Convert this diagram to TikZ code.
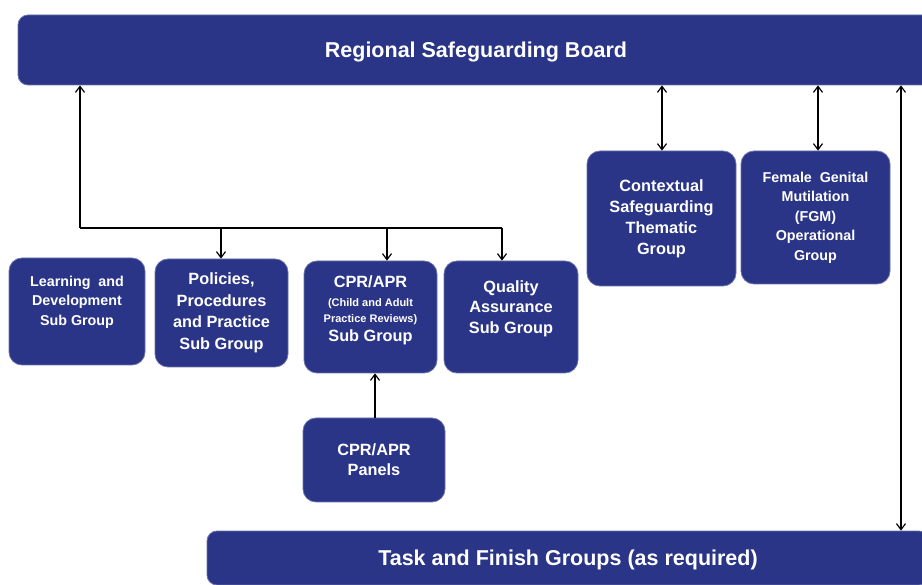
\documentclass[tikz,border=0pt]{standalone}
\usepackage{fontspec}
\setmainfont{Liberation Sans}
\usetikzlibrary{arrows.meta}
\definecolor{navy}{RGB}{42,53,135}
\tikzset{
  box/.style={fill=navy, draw=navy!70!white, line width=0.8pt, rounded corners=13pt, text=white, align=center, inner sep=2pt},
  bar/.style={fill=navy, draw=navy!70!white, line width=0.8pt, rounded corners=10pt, text=white, align=center},
  conn/.style={draw=black, line width=1.4pt},
  arr/.style={conn, -{Straight Barb[length=6pt,width=9pt,line width=1.2pt]}},
  darr/.style={conn, {Straight Barb[length=6pt,width=9pt,line width=1.2pt]}-{Straight Barb[length=6pt,width=9pt,line width=1.2pt]}},
  fbig/.style={font=\fontsize{21.5}{24}\selectfont\bfseries},
  fmid/.style={font=\fontsize{16.3}{21}\selectfont\bfseries},
  fsml/.style={font=\fontsize{14.3}{19.5}\selectfont\bfseries},
}
\begin{document}
\begin{tikzpicture}[x=1pt,y=-1pt]
\useasboundingbox (0,0) rectangle (922,585);
\clip (0,0) rectangle (922,585);
% top board
\node[bar, fbig, minimum width=916pt, minimum height=70pt, text height=20pt, text depth=4.5pt] (board) at (476,50) {Regional Safeguarding Board};
% bottom bar
\node[bar, fbig, minimum width=722pt, minimum height=54pt, text height=19pt, text depth=4.5pt] (task) at (568,558) {Task and Finish Groups (as required)};
% sub groups
\node[box, fsml, minimum width=136pt, minimum height=107pt] (learn) at (77,311.5) {Learning~ and\\Development\\Sub Group\\[2pt]\phantom{X}};
\node[box, minimum width=133pt, minimum height=108pt, font=\fontsize{16.3}{21.5}\selectfont\bfseries] (pol) at (221.5,313) {Policies,\\Procedures\\and Practice\\Sub Group};
\node[box, minimum width=133pt, minimum height=112pt, font=\fontsize{11}{13}\selectfont\bfseries] (cpr) at (370.5,317) {{\fontsize{16.3}{19}\selectfont CPR/APR}\\[6pt]
  (Child and Adult\\[3pt]
  Practice Reviews)\\[4pt]
  {\fontsize{16.3}{19}\selectfont Sub Group}\\[4pt]\mbox{}};
\node[box, minimum width=134pt, minimum height=112pt, font=\fontsize{16.3}{20.5}\selectfont\bfseries] (qa) at (511,317) {Quality\\Assurance\\Sub Group\\\phantom{X}};
\node[box, minimum width=142pt, minimum height=84pt, font=\fontsize{16.3}{20}\selectfont\bfseries] (panel) at (374,460) {CPR/APR\\Panels};
\node[box, fmid, minimum width=149pt, minimum height=135pt] (ctx) at (661.5,218.5) {Contextual\\Safeguarding\\Thematic\\Group};
\node[box, fsml, minimum width=149pt, minimum height=133pt] (fgm) at (815.5,217.5) {Female~ Genital\\Mutilation\\(FGM)\\Operational\\Group};
% junction coordinates
\coordinate (j0) at (80,228);
\coordinate (j1) at (221,228);
\coordinate (j2) at (387,228);
\coordinate (j3) at (502,228);
\coordinate (pa) at (375,0);
\coordinate (ca) at (662,0);
\coordinate (fa) at (818,0);
\coordinate (ta) at (901,0);
% connectors
\draw[arr] (j0) -- (j0 |- board.south);
\draw[conn] (j0) -- (j3);
\draw[arr] (j1) -- (j1 |- pol.north);
\draw[arr] (j2) -- (j2 |- cpr.north);
\draw[arr] (j3) -- (j3 |- qa.north);
\draw[arr] (pa |- panel.north) -- (pa |- cpr.south);
\draw[darr] (ca |- board.south) -- (ca |- ctx.north);
\draw[darr] (fa |- board.south) -- (fa |- fgm.north);
\draw[darr] (ta |- board.south) -- (ta |- task.north);
\end{tikzpicture}
\end{document}
